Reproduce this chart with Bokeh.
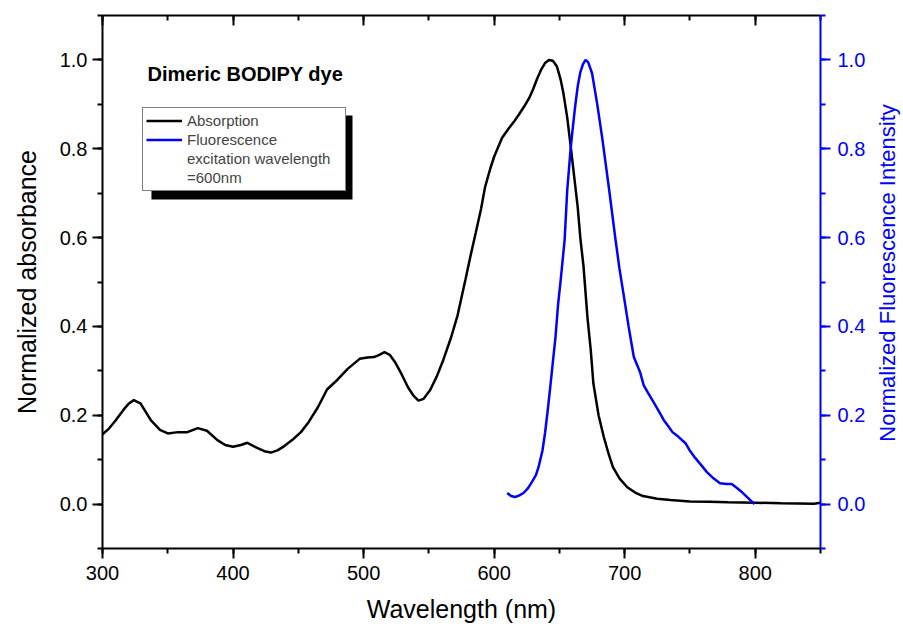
import math
from bokeh.plotting import figure
from bokeh.layouts import row
from bokeh.models import (Range1d, LinearAxis, SingleIntervalTicker, PrintfTickFormatter,
                          CustomJSTickFormatter, Legend, LegendItem, BoxAnnotation, Label)
from bokeh.embed import file_html
from bokeh.resources import INLINE

# ---- data ----
abs_wl = [300, 305, 310, 316, 320, 324, 329, 333, 337, 344, 350, 358, 365, 373, 380, 388, 394,
          400, 406, 411, 418, 424, 429, 434, 439, 446, 452, 458, 465, 472, 480, 488, 497, 503,
          508, 512, 516, 520, 524, 529, 534, 538, 542, 546, 551, 556, 561, 567, 572, 578, 582,
          586, 590, 593, 597, 600, 606, 611, 615, 619, 623, 627, 630, 633, 636, 639, 642, 645,
          648, 651, 653, 656, 659, 662, 664, 666, 668.5, 671.5, 674, 676, 680, 684, 688, 691,
          696, 702, 708, 714, 725, 735, 750, 765, 779, 800, 820, 845, 850]
abs_val = [0.157, 0.170, 0.188, 0.212, 0.226, 0.234, 0.227, 0.208, 0.189, 0.167, 0.159, 0.162,
           0.162, 0.171, 0.165, 0.144, 0.133, 0.129, 0.133, 0.138, 0.127, 0.119, 0.116, 0.121,
           0.130, 0.146, 0.162, 0.185, 0.218, 0.258, 0.280, 0.305, 0.327, 0.330, 0.331, 0.336,
           0.342, 0.336, 0.320, 0.293, 0.263, 0.245, 0.233, 0.237, 0.257, 0.287, 0.324, 0.375,
           0.425, 0.505, 0.560, 0.612, 0.665, 0.713, 0.755, 0.782, 0.824, 0.845, 0.860, 0.877,
           0.895, 0.915, 0.935, 0.958, 0.978, 0.993, 1.000, 0.998, 0.986, 0.955, 0.926, 0.870,
           0.797, 0.720, 0.669, 0.600, 0.534, 0.420, 0.347, 0.272, 0.200, 0.151, 0.110, 0.083,
           0.058, 0.038, 0.026, 0.018, 0.012, 0.009, 0.006, 0.005, 0.004, 0.003, 0.002, 0.001,
           0.003]

fl_wl = [610, 613, 616, 619, 622.5, 626, 629, 632, 634, 637, 639, 641, 643, 645, 647, 649, 651,
         654, 656, 658.5, 660, 662, 664, 666, 668, 670, 672, 675, 679, 683, 688, 693, 696, 699,
         703, 707, 710, 712, 714.5, 718, 722, 726, 730, 733, 736.6, 741, 746.6, 750, 754, 758,
         763, 768, 773, 778, 782, 786, 789, 794, 799.5]
fl_val = [0.025, 0.018, 0.016, 0.019, 0.025, 0.036, 0.050, 0.065, 0.083, 0.120, 0.160, 0.210,
          0.264, 0.320, 0.376, 0.450, 0.505, 0.595, 0.707, 0.797, 0.840, 0.894, 0.940, 0.972,
          0.990, 1.000, 0.995, 0.970, 0.900, 0.820, 0.710, 0.595, 0.530, 0.475, 0.400, 0.331,
          0.310, 0.295, 0.268, 0.250, 0.230, 0.210, 0.189, 0.177, 0.162, 0.152, 0.137, 0.120,
          0.104, 0.090, 0.072, 0.058, 0.047, 0.045, 0.045, 0.036, 0.029, 0.015, 0.000]

FONT = "Liberation Sans"
BLUE = "#0000ff"

p = figure(width=870, height=633, output_backend="svg", toolbar_location=None,
           x_range=Range1d(300, 850), y_range=Range1d(-0.1, 1.1),
           min_border_left=102, min_border_right=50, min_border_top=15, min_border_bottom=85,
           x_axis_location=None, y_axis_location=None)
p.extra_y_ranges = {"fl": Range1d(-0.1, 1.1)}
p.outline_line_color = None
p.xgrid.visible = False
p.ygrid.visible = False
p.background_fill_color = "white"
p.border_fill_color = "white"

def style(ax, color, out_major=10, out_minor=5, in_major=0, in_minor=0, title_size="25px"):
    ax.axis_line_color = color
    ax.axis_line_width = 2
    ax.major_tick_line_color = color
    ax.minor_tick_line_color = color
    ax.major_tick_line_width = 2
    ax.minor_tick_line_width = 2
    ax.major_tick_out = out_major
    ax.minor_tick_out = out_minor
    ax.major_tick_in = in_major
    ax.minor_tick_in = in_minor
    ax.major_label_text_font = FONT
    ax.major_label_text_font_size = "20px"
    ax.major_label_text_color = color
    ax.axis_label_text_font = FONT
    ax.axis_label_text_font_size = title_size
    ax.axis_label_text_font_style = "normal"
    ax.axis_label_text_color = color

xb = LinearAxis(ticker=SingleIntervalTicker(interval=100, num_minor_ticks=2),
                axis_label="Wavelength (nm)")
style(xb, "black")
xb.major_label_standoff = 7
xb.axis_label_standoff = 12
p.add_layout(xb, "below")

xtop = LinearAxis(ticker=SingleIntervalTicker(interval=100, num_minor_ticks=2),
                  formatter=CustomJSTickFormatter(code="return ''"))
style(xtop, "black", out_major=0, out_minor=0, in_major=10, in_minor=5)
xtop.major_label_standoff = 0
p.add_layout(xtop, "above")

yl = LinearAxis(ticker=SingleIntervalTicker(interval=0.2, num_minor_ticks=2),
                axis_label="Normalized absorbance",
                formatter=PrintfTickFormatter(format="%.1f"))
style(yl, "black", title_size="25px")
yl.major_label_standoff = 5
yl.axis_label_standoff = 16
p.add_layout(yl, "left")

yr = LinearAxis(y_range_name="fl", ticker=SingleIntervalTicker(interval=0.2, num_minor_ticks=2),
                formatter=PrintfTickFormatter(format="%.1f"))
style(yr, BLUE, title_size="22px")
yr.major_label_standoff = 7
p.add_layout(yr, "right")

r_abs = p.line(abs_wl, abs_val, line_color="black", line_width=2.5)
r_fl = p.line(fl_wl, fl_val, line_color=BLUE, line_width=2.5, y_range_name="fl")
r_blank1 = p.line([], [], line_alpha=0)
r_blank2 = p.line([], [], line_alpha=0)

# legend drop shadow
shadow = BoxAnnotation(left=337.5, right=491.5, top=0.875, bottom=0.686,
                       fill_color="black", fill_alpha=1.0, line_color=None)
p.add_layout(shadow)

legend = Legend(items=[LegendItem(label="Absorption", renderers=[r_abs]),
                       LegendItem(label="Fluorescence", renderers=[r_fl]),
                       LegendItem(label="excitation wavelength", renderers=[r_blank1]),
                       LegendItem(label="=600nm", renderers=[r_blank2])],
                location=(40, 357))
legend.label_text_font = FONT
legend.label_text_font_size = "15px"
legend.label_height = 19
legend.glyph_height = 19
legend.glyph_width = 36
legend.label_standoff = 5
legend.label_width = 155
legend.spacing = 0
legend.padding = 3
legend.margin = 0
legend.border_line_color = "black"
legend.border_line_width = 1
legend.background_fill_color = "white"
legend.background_fill_alpha = 1.0
p.add_layout(legend)

title = Label(x=334.5, y=0.969, text="Dimeric BODIPY dye", text_font=FONT,
              text_font_size="20px", text_font_style="bold", text_baseline="middle",
              text_align="left", text_color="black")
p.add_layout(title)

# narrow strip holding the right-axis title, which reads upwards as in the reference
p2 = figure(width=33, height=633, output_backend="svg", toolbar_location=None,
            x_range=Range1d(0, 1), y_range=Range1d(0, 1), min_border=0,
            x_axis_location=None, y_axis_location=None)
p2.outline_line_color = None
p2.grid.visible = False
p2.background_fill_color = "white"
p2.border_fill_color = "white"
p2.add_layout(Label(x=0.5, y=0.517, text="Normalized Fluorescence Intensity",
                    text_font=FONT, text_font_size="22px", text_color=BLUE,
                    angle=math.pi / 2, text_align="center", text_baseline="middle"))

layout = row(p, p2, spacing=0)
open("out.html", "w").write(file_html(layout, INLINE))
